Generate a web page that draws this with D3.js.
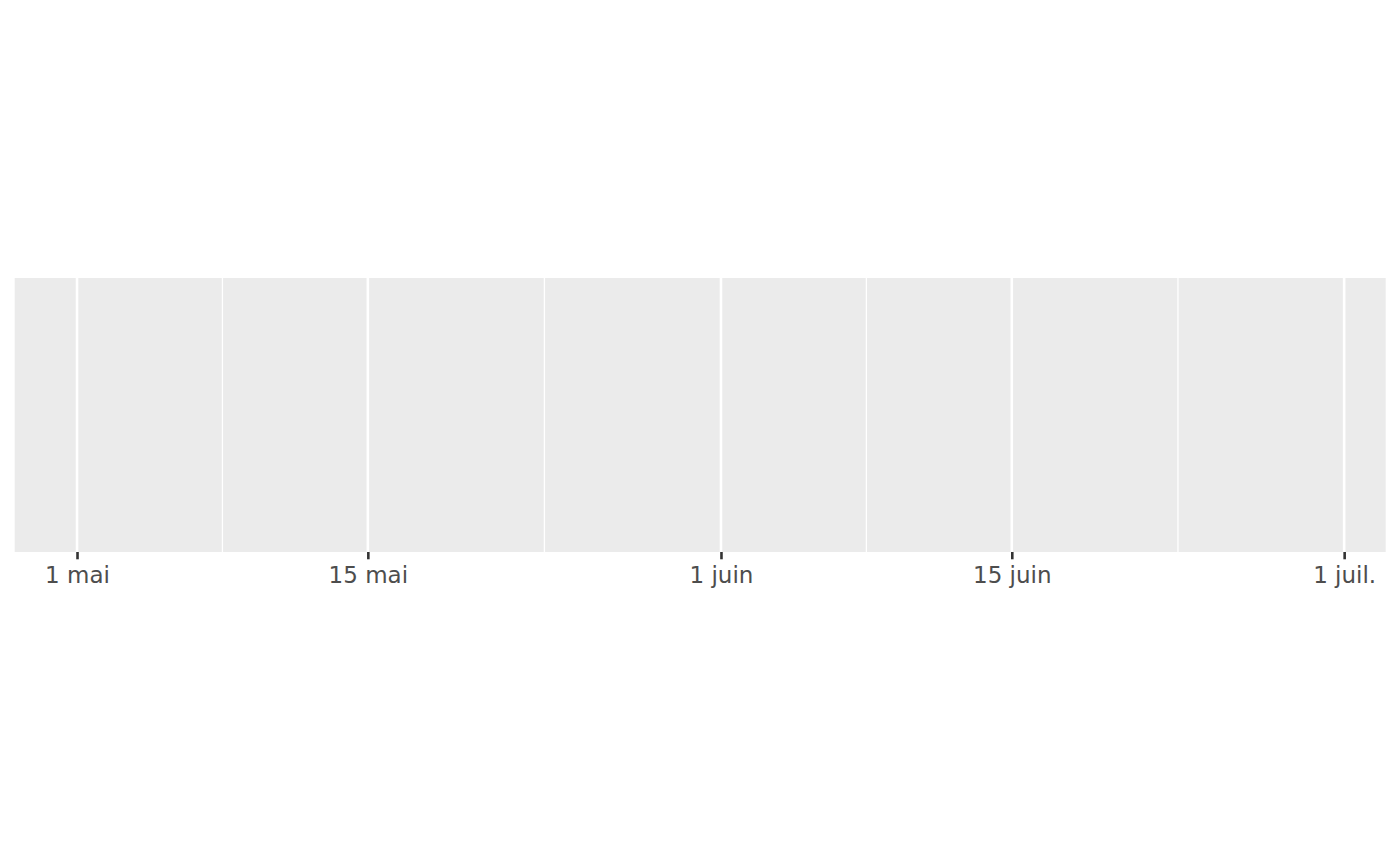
<!DOCTYPE html>
<html>
<head>
<meta charset="utf-8">
<script src="https://cdn.jsdelivr.net/npm/d3@7"></script>
<style>
  html, body { margin: 0; padding: 0; background: #ffffff; }
  svg { display: block; }
</style>
</head>
<body>
<svg id="chart" width="1400" height="866"></svg>
<script>
// Data range of the (empty) series
const dateRange = ["2024-05-01", "2024-06-30"];
// Major tick positions and their labels
const majorTicks = ["2024-05-01", "2024-05-15", "2024-06-01", "2024-06-15", "2024-07-01"];
const tickLabels = ["1 mai", "15 mai", "1 juin", "15 juin", "1 juil."];

const parse = d3.utcParse("%Y-%m-%d");
const W = 1400, H = 866;
const panel = { left: 14.7, right: 1385.7, top: 278, bottom: 552 };

const dMin = parse(dateRange[0]), dMax = parse(dateRange[1]);
const span = dMax - dMin;
const x = d3.scaleUtc()
  .domain([new Date(+dMin - span * 0.05), new Date(+dMax + span * 0.05)])
  .range([panel.left, panel.right]);

const majors = majorTicks.map(parse);
const minors = [];
for (let i = 0; i < majors.length - 1; i++) {
  minors.push(new Date((+majors[i] + +majors[i + 1]) / 2));
}

const svg = d3.select("#chart");

svg.append("rect")
  .attr("x", panel.left).attr("y", panel.top)
  .attr("width", panel.right - panel.left)
  .attr("height", panel.bottom - panel.top)
  .attr("fill", "#EBEBEB");

const grid = svg.append("g");
grid.selectAll("line.minor").data(minors).join("line")
  .attr("class", "minor")
  .attr("x1", d => x(d)).attr("x2", d => x(d))
  .attr("y1", panel.top).attr("y2", panel.bottom)
  .attr("stroke", "#FFFFFF").attr("stroke-width", 1.3);
grid.selectAll("line.major").data(majors).join("line")
  .attr("class", "major")
  .attr("x1", d => x(d)).attr("x2", d => x(d))
  .attr("y1", panel.top).attr("y2", panel.bottom)
  .attr("stroke", "#FFFFFF").attr("stroke-width", 2.6);

const axis = d3.axisBottom(x)
  .tickValues(majors)
  .tickFormat((d, i) => tickLabels[i])
  .tickSize(7.3)
  .tickPadding(5);

const gx = svg.append("g")
  .attr("transform", `translate(0,${panel.bottom})`)
  .call(axis);
gx.select(".domain").remove();
gx.selectAll(".tick line").attr("stroke", "#333333").attr("stroke-width", 2.6);
gx.selectAll(".tick text")
  .attr("fill", "#4D4D4D")
  .attr("font-family", "DejaVu Sans")
  .attr("font-size", "23px")
  .attr("dy", null)
  .attr("y", 0)
  .attr("dominant-baseline", "auto")
  .attr("transform", "translate(0,30.5)");
</script>
</body>
</html>
